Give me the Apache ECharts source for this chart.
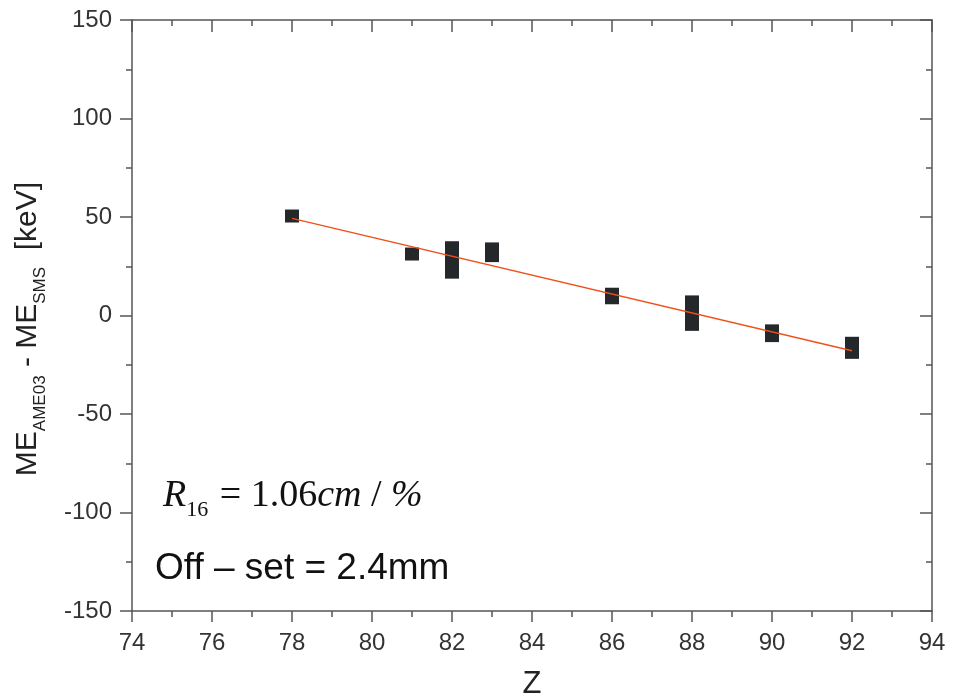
<!DOCTYPE html>
<html>
<head>
<meta charset="utf-8">
<script src="https://cdn.jsdelivr.net/npm/echarts@6/dist/echarts.min.js"></script>
<style>
  html, body { margin: 0; padding: 0; background: #fff; }
  #chart { width: 963px; height: 699px; }
</style>
</head>
<body>
<div id="chart"></div>
<script>
// measured points: Z, ME difference (keV), half height of error box (keV)
const zValues = [78, 81, 82, 83, 86, 88, 90, 92]
const meDiff = [50.5, 31.2, 28.2, 32.1, 9.9, 1.2, -9.0, -16.4]
const meErr = [3, 3, 9.5, 5, 4.2, 9, 4.5, 5.6]

// linear fit line end points
const fitZ = [78, 92]
const fitY = [49.3, -17.9]

const xTicks = [74, 76, 78, 80, 82, 84, 86, 88, 90, 92, 94]
const yTicks = [-150, -100, -50, 0, 50, 100, 150]

let myChart = echarts.init(document.getElementById('chart'))

const axisColor = '#555'
const sans = 'Liberation Sans, Arial'
const serif = 'Liberation Serif, Times New Roman'
const labelFont = { color: '#333', fontSize: 24, fontFamily: sans }

const points = zValues.map((z, i) => [z, meDiff[i], meErr[i]])
const fitLine = fitZ.map((z, i) => [z, fitY[i]])

const lineSt = { color: axisColor, width: 1.5 }

let option = {
  animation: false,
  // keep the plot frame fixed, labels may sit outside
  grid: { left: 132, right: 31, top: 20, bottom: 88, outerBoundsMode: 'none', containLabel: false },
  xAxis: [{
    type: 'value', min: xTicks[0], max: xTicks[xTicks.length - 1], interval: 2,
    name: 'Z', nameLocation: 'middle', nameGap: 58,
    nameTextStyle: { fontSize: 31, color: '#222', fontFamily: sans },
    axisLine: { onZero: false, lineStyle: lineSt },
    axisTick: { inside: false, length: 11, lineStyle: lineSt },
    minorTick: { show: true, splitNumber: 2, length: 6, lineStyle: lineSt },
    axisLabel: Object.assign({ margin: 20 }, labelFont),
    splitLine: { show: false }
  }, {
    type: 'value', min: xTicks[0], max: xTicks[xTicks.length - 1], interval: 2, position: 'top',
    axisLine: { show: true, onZero: false, lineStyle: lineSt },
    axisTick: { inside: true, length: 12, lineStyle: lineSt },
    minorTick: { show: true, splitNumber: 2, length: 6, lineStyle: lineSt },
    axisLabel: { show: false },
    splitLine: { show: false }
  }],
  yAxis: [{
    type: 'value', min: yTicks[0], max: yTicks[yTicks.length - 1], interval: 50,
    axisLine: { show: true, onZero: false, lineStyle: lineSt },
    axisTick: { inside: false, length: 12, lineStyle: lineSt },
    minorTick: { show: true, splitNumber: 2, length: 6, lineStyle: lineSt },
    axisLabel: Object.assign({ margin: 20 }, labelFont),
    splitLine: { show: false }
  }, {
    type: 'value', min: yTicks[0], max: yTicks[yTicks.length - 1], interval: 50, position: 'right',
    axisLine: { show: true, onZero: false, lineStyle: lineSt },
    axisTick: { inside: true, length: 12, lineStyle: lineSt },
    minorTick: { show: true, splitNumber: 2, length: 6, lineStyle: lineSt },
    axisLabel: { show: false },
    splitLine: { show: false }
  }],
  series: [{
    type: 'line',
    data: fitLine,
    symbol: 'none',
    lineStyle: { color: '#f0501a', width: 1.5 },
    z: 3
  }, {
    type: 'custom',
    data: points,
    renderItem: function (params, api) {
      const top = api.coord([api.value(0), api.value(1) + api.value(2)])
      const bot = api.coord([api.value(0), api.value(1) - api.value(2)])
      const mid = (top[1] + bot[1]) / 2
      const h = Math.max(13, bot[1] - top[1])
      return {
        type: 'rect',
        shape: { x: top[0] - 7, y: mid - h / 2, width: 14, height: h },
        style: { fill: '#24282b' }
      }
    },
    z: 2
  }],
  graphic: [{
    // y axis title, rotated, subscripts dropping below the baseline
    type: 'text', x: 31, y: 329, rotation: Math.PI / 2,
    style: {
      text: '{m|ME}{s|AME03}{m| - ME}{s|SMS}{m|  [keV]}',
      align: 'center', verticalAlign: 'middle',
      rich: {
        m: { fontSize: 30, fill: '#222', fontFamily: sans, verticalAlign: 'bottom', padding: [0, 0, 6, 0] },
        s: { fontSize: 17, fill: '#222', fontFamily: sans, verticalAlign: 'bottom' }
      }
    }
  }, {
    type: 'text', left: 163, top: 477,
    style: {
      text: '{i|R}{sub|16}{n| = 1.06}{i|cm}{n| / }{i|%}',
      rich: {
        i: { fontSize: 38, fontStyle: 'italic', fontFamily: serif, fill: '#111', verticalAlign: 'bottom', padding: [0, 0, 6, 0] },
        n: { fontSize: 38, fontFamily: serif, fill: '#111', verticalAlign: 'bottom', padding: [0, 0, 6, 0] },
        sub: { fontSize: 22, fontFamily: serif, fill: '#111', verticalAlign: 'bottom', padding: [0, 2, 0, 0] }
      }
    }
  }, {
    type: 'text', x: 155, y: 569,
    style: {
      text: 'Off \u2013 set = 2.4mm',
      font: '37px Liberation Sans, Arial',
      fill: '#111',
      verticalAlign: 'middle'
    }
  }]
}

myChart.setOption(option)
</script>
</body>
</html>
